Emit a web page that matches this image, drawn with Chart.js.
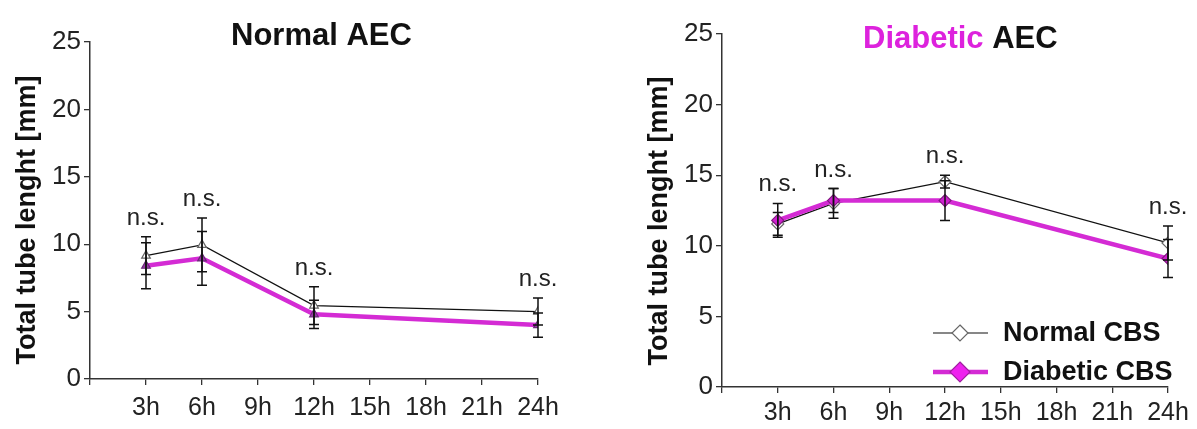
<!DOCTYPE html>
<html>
<head>
<meta charset="utf-8">
<script src="https://cdn.jsdelivr.net/npm/chart.js@4.4.1/dist/chart.umd.min.js"></script>
<style>
  html, body { margin: 0; padding: 0; background: #fff; }
  #wrap { position: relative; width: 1197px; height: 429px; }
  canvas { position: absolute; top: 0; }
  #c1 { left: 0; }
  #c2 { left: 600px; }
</style>
</head>
<body>
<div id="wrap">
  <canvas id="c1" width="600" height="429"></canvas>
  <canvas id="c2" width="597" height="429"></canvas>
</div>
<script>
// ---- data ----
const HOURS = [3, 6, 12, 24];
const TICK_LABELS = ['', '3h', '6h', '9h', '12h', '15h', '18h', '21h', '24h'];
const Y_TITLE = 'Total tube lenght [mm]';
const SERIES_NAMES = ['Normal CBS', 'Diabetic CBS'];

// Normal AEC panel
const normalAEC_normalCBS = [9.15, 9.95, 5.45, 5.0];
const normalAEC_normalCBS_err = [1.4, 2.0, 1.4, 1.0];
const normalAEC_diabeticCBS = [8.4, 8.95, 4.8, 4.0];
const normalAEC_diabeticCBS_err = [1.7, 2.0, 1.05, 0.9];

// Diabetic AEC panel
const diabeticAEC_normalCBS = [11.55, 13.0, 14.55, 10.2];
const diabeticAEC_normalCBS_err = [0.8, 1.05, 0.45, 1.2];
const diabeticAEC_diabeticCBS = [11.8, 13.2, 13.2, 9.1];
const diabeticAEC_diabeticCBS_err = [1.2, 0.85, 1.4, 1.35];

const SIG_LABELS = ['n.s.', 'n.s.', 'n.s.', 'n.s.'];

// ---- styling ----
const FONT = '"Liberation Sans", Arial, sans-serif';
const MAGENTA = '#d42bd4';
Chart.defaults.font.family = FONT;
Chart.defaults.color = '#222';

function pts(vals) { return HOURS.map((h, i) => ({ x: h, y: vals[i] })); }

const decor = {
  id: 'decor',
  afterDatasetsDraw(chart, args, o) {
    const ctx = chart.ctx, xs = chart.scales.x, ys = chart.scales.y;
    ctx.save();
    // error bars
    ctx.strokeStyle = '#111';
    ctx.lineWidth = 1.5;
    chart.data.datasets.forEach(ds => {
      ds.data.forEach((p, i) => {
        const e = ds.errors[i];
        const px = xs.getPixelForValue(p.x);
        const yt = ys.getPixelForValue(p.y + e);
        const yb = ys.getPixelForValue(p.y - e);
        ctx.beginPath();
        ctx.moveTo(px, yt); ctx.lineTo(px, yb);
        ctx.moveTo(px - 5, yt); ctx.lineTo(px + 5, yt);
        ctx.moveTo(px - 5, yb); ctx.lineTo(px + 5, yb);
        ctx.stroke();
      });
    });
    // significance labels
    ctx.fillStyle = '#222';
    ctx.font = '24px ' + FONT;
    ctx.textAlign = 'center';
    ctx.textBaseline = 'alphabetic';
    HOURS.forEach((h, i) => {
      let top = -Infinity;
      chart.data.datasets.forEach(ds => { top = Math.max(top, ds.data[i].y + ds.errors[i]); });
      ctx.fillText(SIG_LABELS[i], xs.getPixelForValue(h), ys.getPixelForValue(top) - 12);
    });
    ctx.restore();
  },
  afterDraw(chart, args, o) {
    const ctx = chart.ctx;
    ctx.save();
    // panel title
    ctx.font = 'bold 31px ' + FONT;
    ctx.textBaseline = 'middle';
    ctx.textAlign = 'left';
    let x = o.titleX;
    o.title.forEach(part => {
      ctx.fillStyle = part.color;
      ctx.fillText(part.text, x, o.titleY);
      x += ctx.measureText(part.text).width;
    });
    // y-axis title
    ctx.translate(o.yTitleX, o.yTitleY);
    ctx.rotate(-Math.PI / 2);
    ctx.font = 'bold 27px ' + FONT;
    ctx.fillStyle = '#111';
    ctx.textAlign = 'center';
    ctx.textBaseline = 'middle';
    ctx.fillText(Y_TITLE, 0, 0);
    ctx.restore();
    // legend
    if (o.legend) {
      const L = o.legend;
      ctx.save();
      chart.data.datasets.forEach((ds, i) => {
        const y = L.y + i * L.dy;
        ctx.strokeStyle = ds.borderColor;
        ctx.lineWidth = ds.borderWidth;
        ctx.beginPath(); ctx.moveTo(L.x, y); ctx.lineTo(L.x + 55, y); ctx.stroke();
        const r = i === 0 ? 8 : 10;
        ctx.beginPath();
        ctx.moveTo(L.x + 27, y - r); ctx.lineTo(L.x + 27 + r, y);
        ctx.lineTo(L.x + 27, y + r); ctx.lineTo(L.x + 27 - r, y); ctx.closePath();
        ctx.fillStyle = i === 0 ? '#fff' : '#ee22ee';
        ctx.fill();
        ctx.lineWidth = 1.2;
        ctx.strokeStyle = i === 0 ? '#666' : '#a020a0';
        ctx.stroke();
        ctx.fillStyle = '#111';
        ctx.font = 'bold 27px ' + FONT;
        ctx.textAlign = 'left';
        ctx.textBaseline = 'middle';
        ctx.fillText(ds.label, L.x + 70, y + 1);
      });
      ctx.restore();
    }
  }
};

function makeChart(id, p) {
  return new Chart(document.getElementById(id), {
    type: 'line',
    data: {
      datasets: [
        {
          label: SERIES_NAMES[0], data: pts(p.normal), errors: p.normalErr,
          borderColor: '#111', borderWidth: 1.2, order: 2,
          pointStyle: p.marker, pointRadius: p.r, pointBackgroundColor: '#fff',
          pointBorderColor: '#666', pointBorderWidth: 1.2, tension: 0
        },
        {
          label: SERIES_NAMES[1], data: pts(p.diab), errors: p.diabErr,
          borderColor: MAGENTA, borderWidth: 4.5, order: 1,
          pointStyle: p.marker, pointRadius: p.r, pointBackgroundColor: p.diabFill,
          pointBorderColor: p.diabBorder, pointBorderWidth: 1.2, tension: 0
        }
      ]
    },
    options: {
      responsive: false,
      animation: false,
      devicePixelRatio: 1,
      layout: { padding: p.padding },
      plugins: {
        legend: { display: false },
        tooltip: { enabled: false },
        decor: p.decor
      },
      scales: {
        x: {
          type: 'linear', min: 0, max: 24,
          afterFit: s => { s.height = p.xH; },
          ticks: {
            stepSize: 3, autoSkip: false, maxRotation: 0, padding: p.xPad,
            font: { size: 25 }, color: '#222',
            callback: v => TICK_LABELS[Math.round(v / 3)]
          },
          grid: { drawOnChartArea: false, drawTicks: true, tickLength: 6, color: '#333', lineWidth: 1.3 },
          border: { display: true, color: '#333', width: 1.5 }
        },
        y: {
          min: 0, max: 25,
          afterFit: s => { s.width = p.yW; },
          ticks: { stepSize: 5, padding: 3, font: { size: 26 }, color: '#222' },
          grid: { drawOnChartArea: false, drawTicks: true, tickLength: 6, color: '#333', lineWidth: 1.3 },
          border: { display: true, color: '#333', width: 1.5 }
        }
      }
    },
    plugins: [decor]
  });
}

makeChart('c1', {
  normal: normalAEC_normalCBS, normalErr: normalAEC_normalCBS_err,
  diab: normalAEC_diabeticCBS, diabErr: normalAEC_diabeticCBS_err,
  marker: 'triangle', r: 5, diabFill: '#9a3aa8', diabBorder: '#6a2a78',
  padding: { top: 42, right: 62, left: 0, bottom: 0 }, xH: 50, yW: 90, xPad: 8,
  decor: {
    title: [{ text: 'Normal AEC', color: '#111' }], titleX: 231, titleY: 36,
    yTitleX: 28, yTitleY: 220
  }
});

makeChart('c2', {
  normal: diabeticAEC_normalCBS, normalErr: diabeticAEC_normalCBS_err,
  diab: diabeticAEC_diabeticCBS, diabErr: diabeticAEC_diabeticCBS_err,
  marker: 'rectRot', r: 6, diabFill: '#d020d0', diabBorder: '#801a80',
  padding: { top: 34, right: 29, left: 0, bottom: 0 }, xH: 42, yW: 122, xPad: 5,
  decor: {
    title: [{ text: 'Diabetic ', color: '#dd22dd' }, { text: 'AEC', color: '#111' }], titleX: 263, titleY: 39,
    yTitleX: 60, yTitleY: 221,
    legend: { x: 333, y: 333, dy: 39 }
  }
});
</script>
</body>
</html>
